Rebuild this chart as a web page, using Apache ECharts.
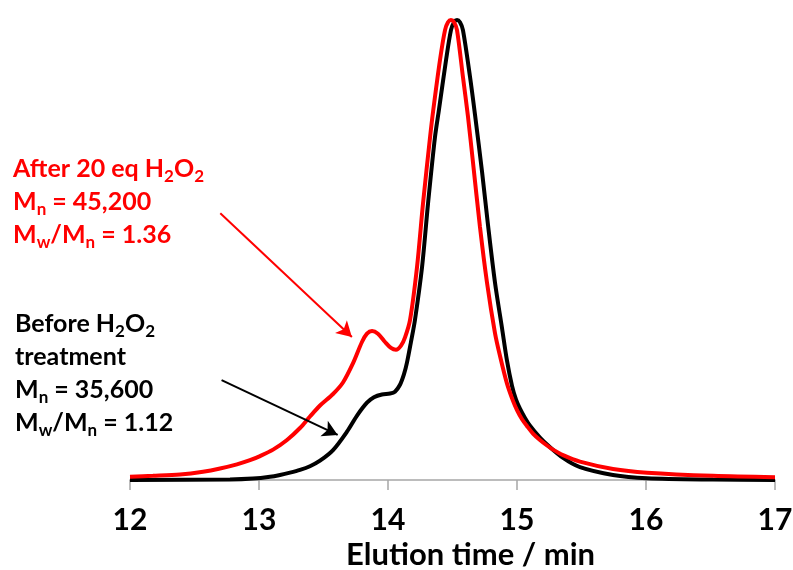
<!DOCTYPE html>
<html>
<head>
<meta charset="utf-8">
<title>GPC traces before and after H2O2 treatment</title>
<script src="https://cdn.jsdelivr.net/npm/echarts@6/dist/echarts.min.js"></script>
<style>
  html, body { margin: 0; padding: 0; background: #ffffff; }
  #chart { width: 793px; height: 570px; }
</style>
</head>
<body>
<div id="chart"></div>
<script>
// Elution time (min) and normalised RI signal, after 20 eq H2O2
const afterTime = [12.000, 12.178, 12.388, 12.566, 12.698, 12.829, 12.930, 13.008, 13.109, 13.217, 13.318, 13.395, 13.473, 13.574, 13.651, 13.729, 13.798, 13.837, 13.876, 13.922, 13.977, 14.023, 14.062, 14.101, 14.132, 14.171, 14.225, 14.271, 14.326, 14.349, 14.403, 14.442, 14.465, 14.488, 14.512, 14.535, 14.581, 14.620, 14.659, 14.713, 14.767, 14.829, 14.868, 14.922, 14.969, 15.000, 15.039, 15.078, 15.124, 15.178, 15.233, 15.279, 15.357, 15.488, 15.744, 16.008, 16.519, 17.000];
const afterSignal = [0.007, 0.009, 0.012, 0.018, 0.025, 0.034, 0.043, 0.052, 0.066, 0.087, 0.113, 0.138, 0.162, 0.187, 0.212, 0.254, 0.300, 0.318, 0.324, 0.318, 0.300, 0.287, 0.283, 0.292, 0.310, 0.348, 0.463, 0.600, 0.745, 0.800, 0.913, 0.978, 0.995, 1.000, 0.995, 0.978, 0.876, 0.790, 0.690, 0.550, 0.430, 0.320, 0.270, 0.210, 0.172, 0.152, 0.132, 0.117, 0.101, 0.087, 0.075, 0.066, 0.054, 0.040, 0.024, 0.016, 0.009, 0.006];

// Elution time (min) and normalised RI signal, before treatment
const beforeTime = [12.000, 12.775, 12.953, 13.085, 13.163, 13.240, 13.318, 13.395, 13.473, 13.574, 13.682, 13.760, 13.837, 13.891, 13.953, 14.016, 14.054, 14.093, 14.124, 14.147, 14.178, 14.209, 14.264, 14.310, 14.364, 14.395, 14.450, 14.488, 14.512, 14.535, 14.558, 14.581, 14.636, 14.674, 14.729, 14.775, 14.829, 14.884, 14.922, 14.961, 14.992, 15.023, 15.062, 15.101, 15.178, 15.233, 15.357, 15.488, 15.744, 16.008, 16.519, 17.000];
const beforeSignal = [0.000, 0.001, 0.003, 0.007, 0.011, 0.016, 0.022, 0.030, 0.042, 0.065, 0.105, 0.140, 0.168, 0.180, 0.186, 0.188, 0.192, 0.207, 0.230, 0.255, 0.300, 0.348, 0.463, 0.600, 0.745, 0.805, 0.913, 0.978, 0.995, 1.000, 0.995, 0.978, 0.876, 0.795, 0.670, 0.555, 0.430, 0.330, 0.260, 0.205, 0.175, 0.155, 0.135, 0.118, 0.092, 0.077, 0.048, 0.028, 0.011, 0.004, 0.001, 0.000];

// Annotation arrows: [start, tip] in (time, signal) coordinates
const afterArrow = [[12.70, 0.580], [13.72, 0.311]];
const beforeArrow = [[12.71, 0.217], [13.61, 0.098]];

// Annotation text lines
const afterLabel = ['{t|After 20 eq H}{s|2}{t|O}{s|2}', '{t|M}{s|n}{t| = 45,200}', '{t|M}{s|w}{t|/M}{s|n}{t| = 1.36}'];
const beforeLabel = ['{t|Before H}{s|2}{t|O}{s|2}', '{t|treatment}', '{t|M}{s|n}{t| = 35,600}', '{t|M}{s|w}{t|/M}{s|n}{t| = 1.12}'];

const FONT = 'Lato, "Open Sans", sans-serif';

function pairs(xs, ys) {
  return xs.map((x, i) => [x, ys[i]]);
}

function richStyles(color) {
  return {
    t: { fontFamily: FONT, fontWeight: 'bold', fontSize: 25, lineHeight: 33, fill: color, color: color },
    s: { fontFamily: FONT, fontWeight: 'bold', fontSize: 17, lineHeight: 20, verticalAlign: 'bottom', fill: color, color: color }
  };
}

function arrowLine(pts, color) {
  return {
    silent: true,
    symbol: ['none', 'arrow'],
    symbolSize: [13, 15],
    label: { show: false },
    lineStyle: { color: color, width: 2, type: 'solid' },
    emphasis: { disabled: true },
    animation: false,
    data: [[{ coord: pts[0] }, { coord: pts[1] }]]
  };
}

const chart = echarts.init(document.getElementById('chart'), null, { renderer: 'canvas' });

chart.setOption({
  animation: false,
  backgroundColor: '#ffffff',
  grid: { left: 130, right: 18, top: 20, bottom: 90, containLabel: false, outerBoundsMode: 'none' },
  xAxis: {
    type: 'value',
    min: 12,
    max: 17,
    interval: 1,
    name: 'Elution time / min',
    nameLocation: 'middle',
    nameGap: 59,
    nameTextStyle: { fontFamily: FONT, fontWeight: 'bold', fontSize: 31, color: '#000', padding: [0, 0, 0, 36] },
    axisLine: { lineStyle: { color: '#a6a6a6', width: 1.5 } },
    axisTick: { show: true, length: 10, inside: false, lineStyle: { color: '#a6a6a6', width: 1.5 } },
    axisLabel: { fontFamily: FONT, fontWeight: 'bold', fontSize: 30, color: '#000', margin: 25 },
    splitLine: { show: false }
  },
  yAxis: {
    type: 'value',
    min: 0,
    max: 1,
    show: false,
    splitLine: { show: false }
  },
  series: [
    {
      name: 'Before H2O2 treatment',
      type: 'line',
      data: pairs(beforeTime, beforeSignal),
      smooth: 0.3,
      showSymbol: false,
      clip: false,
      lineStyle: { color: '#000000', width: 4 },
      markLine: arrowLine(beforeArrow, '#000000'),
      z: 2
    },
    {
      name: 'After 20 eq H2O2',
      type: 'line',
      data: pairs(afterTime, afterSignal),
      smooth: 0.3,
      showSymbol: false,
      clip: false,
      lineStyle: { color: '#ff0000', width: 4 },
      markLine: arrowLine(afterArrow, '#ff0000'),
      z: 3
    }
  ],
  graphic: [
    {
      type: 'text',
      left: 13,
      top: 152,
      style: { text: afterLabel.join('\n'), rich: richStyles('#ff0000'), fill: '#ff0000', lineHeight: 33 }
    },
    {
      type: 'text',
      left: 15,
      top: 307,
      style: { text: beforeLabel.join('\n'), rich: richStyles('#000000'), fill: '#000000', lineHeight: 33 }
    }
  ]
});
</script>
</body>
</html>
